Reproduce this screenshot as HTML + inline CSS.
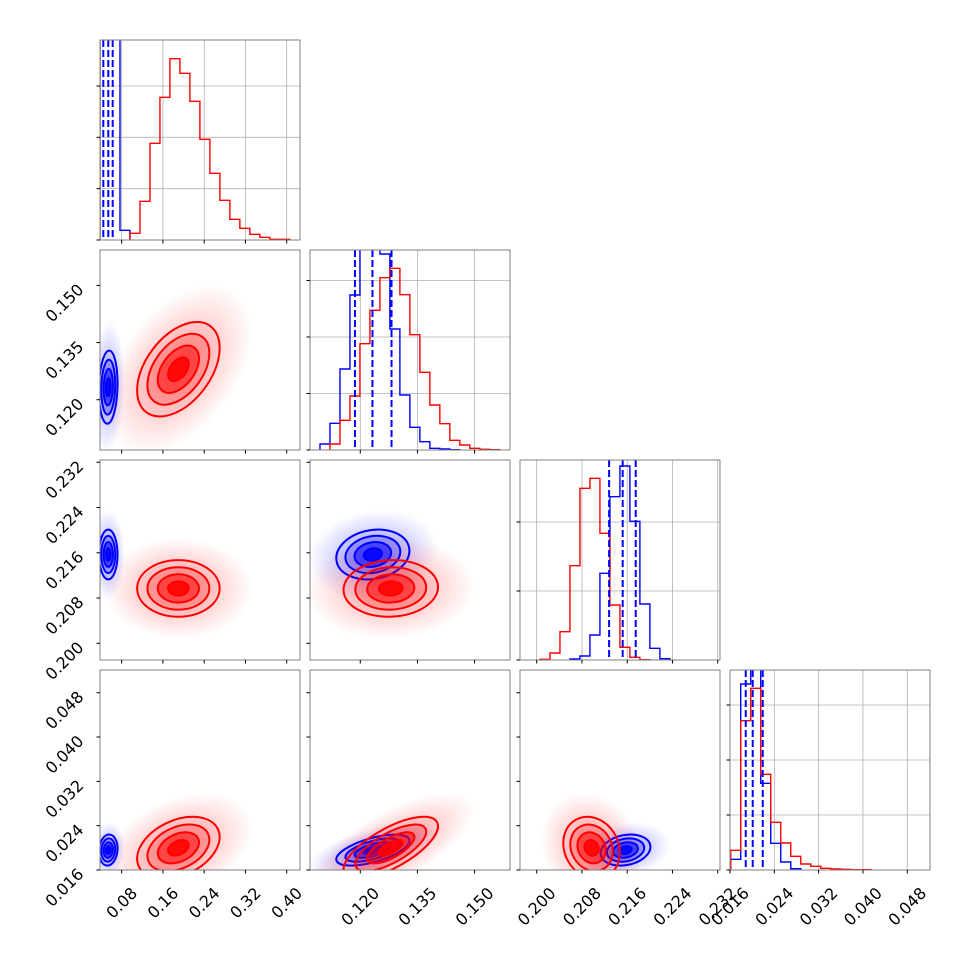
<!DOCTYPE html>
<html><head><meta charset="utf-8"><style>
html,body{margin:0;padding:0;background:#fff;}
svg{display:block;font-family:"DejaVu Sans","Liberation Sans",sans-serif;}
</style></head><body>
<svg id="fig" width="970" height="970" viewBox="0 0 970 970" xmlns="http://www.w3.org/2000/svg">
<defs id="defs"></defs>
</svg>
<script>
// ---- axis ranges (per parameter) ----
const axisLo = [0.038, 0.1068, 0.19705, 0.0160];
const axisHi = [0.4258, 0.1593, 0.2324, 0.0521];
// ---- tick values & labels ----
const ticks0 = [0.08, 0.16, 0.24, 0.32, 0.40];
const ticks1 = [0.120, 0.135, 0.150];
const ticks2 = [0.200, 0.208, 0.216, 0.224, 0.232];
const ticks3 = [0.016, 0.024, 0.032, 0.040, 0.048];
const tickLabels0 = ["0.08", "0.16", "0.24", "0.32", "0.40"];
const tickLabels1 = ["0.120", "0.135", "0.150"];
const tickLabels2 = ["0.200", "0.208", "0.216", "0.224", "0.232"];
const tickLabels3 = ["0.016", "0.024", "0.032", "0.040", "0.048"];
const histYTickStep = [154, 169.5, 207, 165];
const histYMax = 600;
// ---- histograms: bin start, bin width, counts ----
const histStartRed = [0.0961, 0.11204, 0.20058, 0.01613];
const histStartBlue = [0.038, 0.10942, 0.20588, 0.01613];
const histBinWidth = [0.01937, 0.002622, 0.001766, 0.001806];
const countsRed0 = [20, 116, 290, 428, 544, 500, 416, 302, 200, 119, 62, 35, 17, 8, 2, 2];
const countsBlue0 = [2000, 2000, 29];
const countsRed1 = [18, 89, 162, 319, 419, 517, 545, 466, 346, 233, 135, 79, 29, 15, 5, 2, 1];
const countsBlue1 = [18, 80, 243, 465, 650, 640, 588, 363, 165, 68, 25, 5, 3, 1];
const countsRed2 = [2, 21, 85, 283, 515, 545, 380, 165, 38, 8, 1];
const countsBlue2 = [3, 12, 75, 260, 490, 582, 416, 168, 35, 4];
const countsRed3 = [59, 448, 545, 287, 143, 81, 41, 18, 11, 5, 3, 2, 1, 1];
const countsBlue3 = [32, 558, 650, 260, 80, 24, 4];
// ---- blue quantiles (16/50/84) ----
const quantBlue0 = [0.0444, 0.0541, 0.0626];
const quantBlue1 = [0.1186, 0.1232, 0.1282];
const quantBlue2 = [0.2128, 0.2152, 0.2175];
const quantBlue3 = [0.01884, 0.0201, 0.02191];
// ---- 2D distribution summaries ----
const meanRed = [0.190, 0.1280, 0.2097, 0.0200];
const sdRed = [0.040, 0.0062, 0.0025, 0.0028];
const meanBlue = [0.054, 0.1233, 0.2157, 0.0196];
const sdBlue = [0.009, 0.0048, 0.0022, 0.0014];
// correlations for pairs (1,0),(2,0),(3,0),(2,1),(3,1),(3,2)
const corrRed = [0.45, 0.0, 0.35, 0.05, 0.7, -0.15];
const corrBlue = [0.1, 0.0, 0.1, 0.15, 0.6, 0.2];

const TICKS = [ticks0, ticks1, ticks2, ticks3];
const TLAB = [tickLabels0, tickLabels1, tickLabels2, tickLabels3];
const CR = [countsRed0, countsRed1, countsRed2, countsRed3];
const CB = [countsBlue0, countsBlue1, countsBlue2, countsBlue3];
const QB = [quantBlue0, quantBlue1, quantBlue2, quantBlue3];
const NS = "http://www.w3.org/2000/svg";
const svg = document.getElementById('fig');
const defs = document.getElementById('defs');
const P0X = 100, P0Y = 40, STEP = 210, SZ = 200, FS = 16;
function mk(tag, attrs, parent) { const e = document.createElementNS(NS, tag); for (const k in attrs) e.setAttribute(k, attrs[k]); (parent || svg).appendChild(e); return e; }
function xs(p, v, j) { return P0X + STEP * j + (v - axisLo[p]) / (axisHi[p] - axisLo[p]) * SZ; }
function ys(p, v, i) { return P0Y + STEP * i + SZ - (v - axisLo[p]) / (axisHi[p] - axisLo[p]) * SZ; }
function pxPerUnit(p) { return SZ / (axisHi[p] - axisLo[p]); }
function corrIdx(i, j) { return {"1,0":0,"2,0":1,"3,0":2,"2,1":3,"3,1":4,"3,2":5}[i + "," + j]; }

[["red","#ff0000"],["blue","#0000ff"]].forEach(([n,c])=>{
  const g = mk('radialGradient', {id:'haze-'+n}, defs);
  mk('stop', {offset:'0', 'stop-color':c, 'stop-opacity':'0.35'}, g);
  mk('stop', {offset:'0.55', 'stop-color':c, 'stop-opacity':'0.16'}, g);
  mk('stop', {offset:'1', 'stop-color':c, 'stop-opacity':'0'}, g);
});

function drawGauss(g, i, j, mean, sd, corr, color, name, part) {
  const sx = sd[j] * pxPerUnit(j), sy = sd[i] * pxPerUnit(i);
  const r = corr[corrIdx(i, j)];
  const a = sx * sx, c = sy * sy, b = -r * sx * sy;
  const tr = (a + c) / 2, d = Math.sqrt(((a - c) / 2) ** 2 + b * b);
  const l1 = tr + d, l2 = Math.max(tr - d, 0.01);
  const th = 0.5 * Math.atan2(2 * b, a - c) * 180 / Math.PI;
  const cx = xs(j, mean[j], j), cy = ys(i, mean[i], i);
  const tf = `rotate(${th} ${cx} ${cy})`;
  if (part === 'haze') {
    const e = mk('ellipse', {cx, cy, rx: Math.sqrt(l1) * 3.6, ry: Math.sqrt(l2) * 3.6, transform: tf, fill: `url(#haze-${name})`}, g);
    
    
    return;
  }
  const fills = [[2, 0.06], [1.5, 0.2], [1, 0.5], [0.5, 0.85]];
  fills.forEach(([k, o]) => {
    const e = mk('ellipse', {cx, cy, rx: Math.sqrt(l1) * k, ry: Math.sqrt(l2) * k, transform: tf, fill: color, 'fill-opacity': o}, g);
    
    
  });
  [0.5, 1, 1.5, 2].forEach(k => {
    const e = mk('ellipse', {cx, cy, rx: Math.sqrt(l1) * k, ry: Math.sqrt(l2) * k, transform: tf, fill: 'none', stroke: color, 'stroke-width': 2}, g);
    
    
  });
}

function histPath(p, i, start, w, counts) {
  const by = P0Y + STEP * i + SZ;
  const hy = v => by - v / histYMax * SZ;
  let d = `M${xs(p, start, p)},${by}`;
  counts.forEach((cnt, k) => {
    const x0 = xs(p, start + k * w, p), x1 = xs(p, start + (k + 1) * w, p);
    d += ` L${x0},${hy(cnt)} L${x1},${hy(cnt)}`;
  });
  d += ` L${xs(p, start + counts.length * w, p)},${by}`;
  return d;
}

function ticksAndLabels(g, i, j, diag) {
  const px = P0X + STEP * j, py = P0Y + STEP * i;
  TICKS[j].forEach((v, k) => {
    const x = xs(j, v, j);
    const t = mk('line', {x1: x, x2: x, y1: py + SZ, y2: py + SZ + 3.5, stroke: '#000', 'stroke-width': 1}, g);
    
    
    if (i === 3) {
      const tx = mk('text', {'font-size': FS, 'text-anchor': 'middle', 'dominant-baseline': 'central', fill: '#000'}, g);
      tx.textContent = TLAB[j][k];
      
      
      const L = tx.getComputedTextLength(), h = 15;
      const hw = 0.707 * (L + h) / 2;
      tx.setAttribute('x', x); tx.setAttribute('y', py + SZ + 15 + hw);
      tx.setAttribute('transform', `rotate(-45 ${x} ${py + SZ + 15 + hw})`);
    }
  });
  if (diag) {
    for (let v = 0; v <= histYMax; v += histYTickStep[j]) {
      const y = py + SZ - v / histYMax * SZ;
      const t = mk('line', {x1: px - 3.5, x2: px, y1: y, y2: y, stroke: '#000', 'stroke-width': 1}, g);
      
      
    }
  } else {
    TICKS[i].forEach((v, k) => {
      const y = ys(i, v, i);
      const t = mk('line', {x1: px - 3.5, x2: px, y1: y, y2: y, stroke: '#000', 'stroke-width': 1}, g);
      
      
      if (j === 0) {
        const tx = mk('text', {'font-size': FS, 'text-anchor': 'middle', 'dominant-baseline': 'central', fill: '#000'}, g);
        tx.textContent = TLAB[i][k];
        
        
        const L = tx.getComputedTextLength(), h = 15;
        const hw = 0.707 * (L + h) / 2;
        const cx = 86 - hw, cy = y - 4 + hw;
        tx.setAttribute('x', cx); tx.setAttribute('y', cy);
        tx.setAttribute('transform', `rotate(-45 ${cx} ${cy})`);
      }
    });
  }
}

for (let i = 0; i < 4; i++) {
  for (let j = 0; j <= i; j++) {
    const px = P0X + STEP * j, py = P0Y + STEP * i;
    const g = mk('g', {});
    
    
    const cp = mk('clipPath', {id: `clip-${i}-${j}`}, defs);
    mk('rect', {x: px, y: py, width: SZ, height: SZ}, cp);
    const inner = mk('g', {'clip-path': `url(#clip-${i}-${j})`}, g);
    
    
    if (i === j) {
      TICKS[j].forEach(v => {
        const x = xs(j, v, j);
        const l = mk('line', {x1: x, x2: x, y1: py, y2: py + SZ, stroke: '#b0b0b0', 'stroke-width': 0.8}, inner);
        
        
      });
      for (let v = 0; v <= histYMax; v += histYTickStep[j]) {
        const y = py + SZ - v / histYMax * SZ;
        const l = mk('line', {x1: px, x2: px + SZ, y1: y, y2: y, stroke: '#b0b0b0', 'stroke-width': 0.8}, inner);
        
        
      }
      const hb = mk('path', {d: histPath(j, i, histStartBlue[j], histBinWidth[j], CB[j]), fill: 'none', stroke: '#0000ff', 'stroke-width': 1.4}, inner);
      
      
      const hr = mk('path', {d: histPath(j, i, histStartRed[j], histBinWidth[j], CR[j]), fill: 'none', stroke: '#ff0000', 'stroke-width': 1.4}, inner);
      
      
      QB[j].forEach(q => {
        const x = xs(j, q, j);
        const l = mk('line', {x1: x, x2: x, y1: py, y2: py + SZ, stroke: '#0000ff', 'stroke-width': 2, 'stroke-dasharray': '7,3'}, inner);
        
        
      });
    } else {
      drawGauss(inner, i, j, meanBlue, sdBlue, corrBlue, '#0000ff', 'blue', 'haze');
      drawGauss(inner, i, j, meanRed, sdRed, corrRed, '#ff0000', 'red', 'haze');
      drawGauss(inner, i, j, meanBlue, sdBlue, corrBlue, '#0000ff', 'blue', 'fill');
      drawGauss(inner, i, j, meanRed, sdRed, corrRed, '#ff0000', 'red', 'fill');
    }
    const fr = mk('rect', {x: px, y: py, width: SZ, height: SZ, fill: 'none', stroke: '#808080', 'stroke-width': 1}, g);
    
    
    ticksAndLabels(g, i, j, i === j);
  }
}
</script>
</body></html>
